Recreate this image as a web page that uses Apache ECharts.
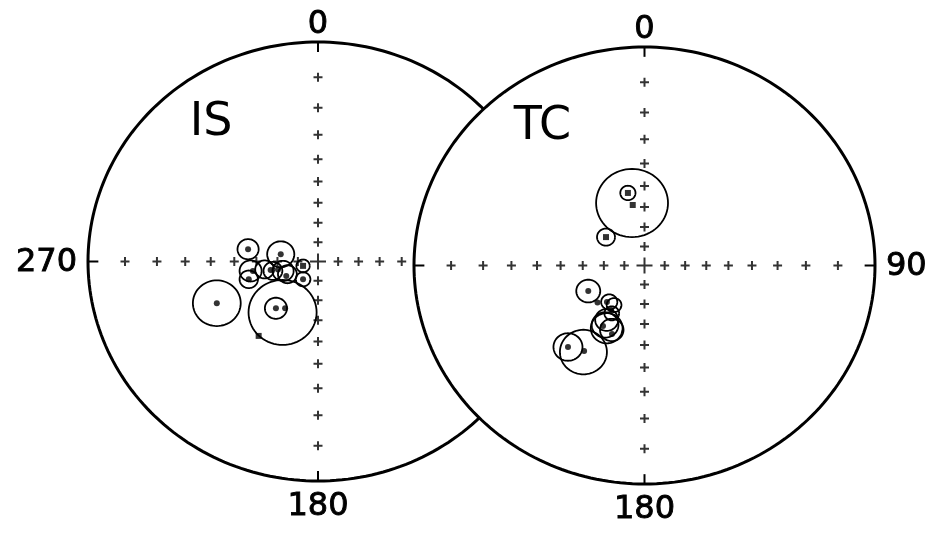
<!DOCTYPE html>
<html>
<head>
<meta charset="utf-8">
<script src="https://cdn.jsdelivr.net/npm/echarts@6/dist/echarts.min.js"></script>
<style>
html, body { margin: 0; background: #fff; }
#container { width: 932px; height: 535px; }
</style>
</head>
<body>
<div id="container"></div>
<script>
// stereonet data (x = east, y = north, net radius = 1)
const tickInclinations = [10, 20, 30, 40, 50, 60, 70, 80];

const isAzimuths = [0, 180, 270];
const isDots = [[-0.304, 0.056], [-0.162, 0.033], [-0.440, -0.190], [-0.183, -0.213], [-0.143, -0.213],
    [-0.301, -0.081], [-0.283, -0.043], [-0.206, -0.039], [-0.174, -0.036], [-0.138, -0.066], [-0.065, -0.081]];
const isSquares = [[-0.065, -0.020], [-0.258, -0.339]];
const isCircles = [[-0.304, 0.056, 0.046], [-0.162, 0.033, 0.059], [-0.440, -0.190, 0.104], [-0.154, -0.232, 0.148],
    [-0.183, -0.213, 0.048], [-0.293, -0.043, 0.048], [-0.301, -0.081, 0.040], [-0.232, -0.036, 0.041],
    [-0.196, -0.043, 0.041], [-0.152, -0.043, 0.046], [-0.133, -0.058, 0.041], [-0.065, -0.020, 0.029],
    [-0.065, -0.081, 0.032]];

const tcAzimuths = [0, 90, 180];
const tcDots = [[-0.244, -0.117], [-0.204, -0.169], [-0.163, -0.167], [-0.145, -0.204], [-0.180, -0.277],
    [-0.141, -0.313], [-0.332, -0.373], [-0.262, -0.391]];
const tcSquares = [[-0.072, 0.332], [-0.051, 0.277], [-0.167, 0.130]];
const tcCircles = [[-0.054, 0.286, 0.156], [-0.072, 0.332, 0.033], [-0.167, 0.130, 0.039], [-0.244, -0.117, 0.052],
    [-0.153, -0.167, 0.035], [-0.132, -0.181, 0.032], [-0.142, -0.219, 0.032], [-0.164, -0.249, 0.050],
    [-0.171, -0.272, 0.058], [-0.164, -0.287, 0.069], [-0.142, -0.295, 0.051], [-0.332, -0.373, 0.063],
    [-0.265, -0.396, 0.102]];

let chart = echarts.init(document.getElementById('container'));

const digitFont = '32px "DejaVu Sans"';
const nameFont = '46px "DejaVu Sans"';
const plus = 'path://M3.5,0H5.5V3.5H9V5.5H5.5V9H3.5V5.5H0V3.5H3.5Z';
const bigPlus = 'path://M7,0H9V7H16V9H9V16H7V9H0V7H7Z';

// wulff net: inclination -> radius
function stereo(inc) {
    return Math.tan((90 - inc) / 2 * Math.PI / 180);
}

let crossPoints = [];
tickInclinations.forEach(inc => {
    let r = stereo(inc);
    crossPoints.push([0, r], [0, -r], [r, 0], [-r, 0]);
});

function netRenderer(azimuths, name, namePos) {
    return function (params, api) {
        let pts = [];
        for (let k = 0; k < 240; k++) {
            let a = k / 240 * 2 * Math.PI;
            pts.push(api.coord([Math.cos(a), Math.sin(a)]));
        }
        let children = [{
            type: 'polygon',
            shape: { points: pts },
            style: { fill: '#fff', stroke: '#000', lineWidth: 3 }
        }];
        [0, 90, 180, 270].forEach(az => {
            let s = Math.sin(az * Math.PI / 180), c = Math.cos(az * Math.PI / 180);
            let p1 = api.coord([0.955 * s, 0.955 * c]);
            let p2 = api.coord([s, c]);
            children.push({
                type: 'line',
                shape: { x1: p1[0], y1: p1[1], x2: p2[0], y2: p2[1] },
                style: { stroke: '#000', lineWidth: 2 }
            });
        });
        azimuths.forEach(az => {
            let s = Math.round(Math.sin(az * Math.PI / 180)), c = Math.round(Math.cos(az * Math.PI / 180));
            let p = api.coord([s, c]);
            let x = p[0] + s * 11, y = p[1] + (c > 0 ? -17 : (c < 0 ? 26 : 1));
            children.push({
                type: 'text',
                x: x, y: y,
                style: {
                    text: String(az), font: digitFont, fill: '#000',
                    stroke: '#000', lineWidth: 0.9,
                    align: s > 0 ? 'left' : (s < 0 ? 'right' : 'center'),
                    verticalAlign: 'middle'
                }
            });
        });
        let np = api.coord(namePos);
        children.push({
            type: 'text', x: np[0], y: np[1],
            style: { text: name, font: nameFont, fill: '#000', align: 'center', verticalAlign: 'middle' }
        });
        return { type: 'group', children: children };
    };
}

function ringItem(params, api) {
    let cx = api.value(0), cy = api.value(1), r = api.value(2);
    let pts = [];
    for (let k = 0; k <= 72; k++) {
        let a = k / 72 * 2 * Math.PI;
        pts.push(api.coord([cx + r * Math.cos(a), cy + r * Math.sin(a)]));
    }
    return {
        type: 'polyline',
        shape: { points: pts },
        style: { stroke: '#000', lineWidth: 1.8, fill: null }
    };
}

function netSeries(idx, z, azimuths, name, namePos, dots, squares, circles) {
    let base = { xAxisIndex: idx, yAxisIndex: idx, animation: false, silent: true };
    return [
        Object.assign({ type: 'custom', z: z, data: [[0, 0]], renderItem: netRenderer(azimuths, name, namePos) }, base),
        Object.assign({ type: 'scatter', z: z + 1, symbol: plus, symbolSize: 9, itemStyle: { color: '#000' }, data: crossPoints }, base),
        Object.assign({ type: 'scatter', z: z + 1, symbol: bigPlus, symbolSize: 16, itemStyle: { color: '#000' }, data: [[0, 0]] }, base),
        Object.assign({ type: 'custom', z: z + 2, data: circles, renderItem: ringItem }, base),
        Object.assign({ type: 'scatter', z: z + 3, symbol: 'circle', symbolSize: 6, itemStyle: { color: '#000' }, data: dots }, base),
        Object.assign({ type: 'scatter', z: z + 3, symbol: 'rect', symbolSize: 6, itemStyle: { color: '#000' }, data: squares }, base)
    ];
}

let axis = { type: 'value', min: -1, max: 1, show: false };

let option = {
    backgroundColor: '#fff',
    grid: [
        { left: 88, top: 42, width: 460, height: 439 },
        { left: 414, top: 47, width: 461, height: 437 }
    ],
    xAxis: [Object.assign({ gridIndex: 0 }, axis), Object.assign({ gridIndex: 1 }, axis)],
    yAxis: [Object.assign({ gridIndex: 0 }, axis), Object.assign({ gridIndex: 1 }, axis)],
    series: [].concat(
        netSeries(0, 1, isAzimuths, 'IS', [-0.465, 0.631], isDots, isSquares, isCircles),
        netSeries(1, 10, tcAzimuths, 'TC', [-0.443, 0.634], tcDots, tcSquares, tcCircles)
    )
};
chart.setOption(option);
</script>
</body>
</html>
